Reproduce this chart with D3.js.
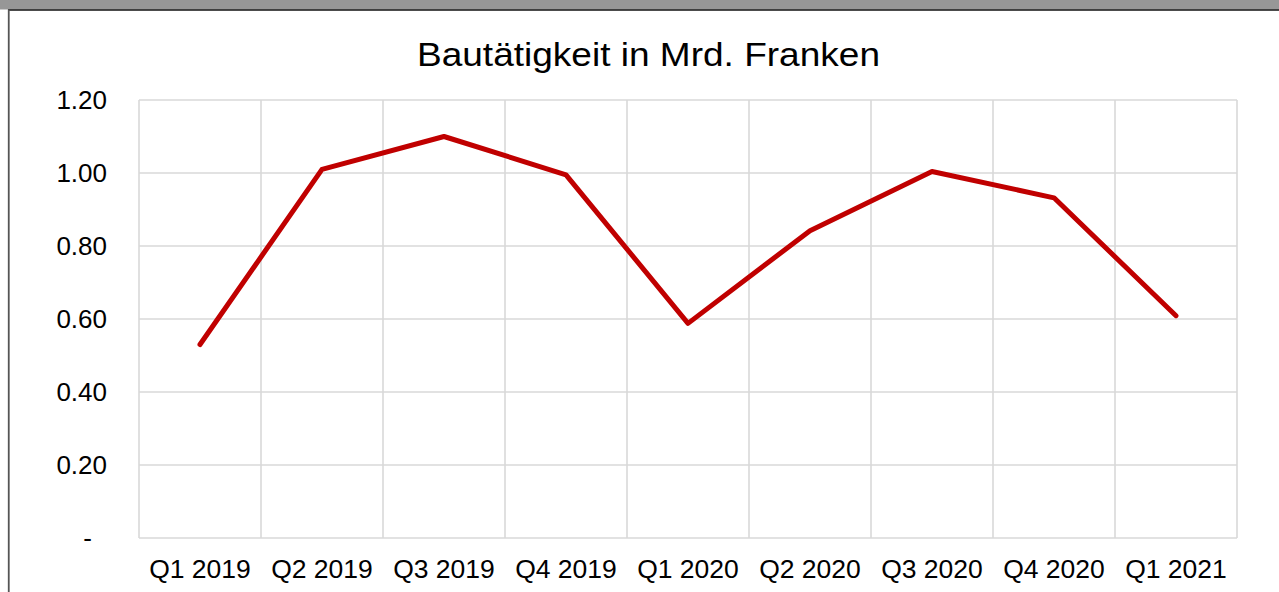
<!DOCTYPE html>
<html>
<head>
<meta charset="utf-8">
<script src="https://cdn.jsdelivr.net/npm/d3@7"></script>
<style>
  html, body { margin: 0; padding: 0; background: #fff; }
  svg { display: block; font-family: "Liberation Sans", Arial, sans-serif; }
</style>
</head>
<body>
<svg id="chart" width="1279" height="592"></svg>
<script>
const categories = ["Q1 2019","Q2 2019","Q3 2019","Q4 2019","Q1 2020","Q2 2020","Q3 2020","Q4 2020","Q1 2021"];
const values = [0.53, 1.01, 1.10, 0.995, 0.588, 0.842, 1.004, 0.932, 0.609];
const yTicks = [0, 0.2, 0.4, 0.6, 0.8, 1.0, 1.2];
const yTickLabels = ["-", "0.20", "0.40", "0.60", "0.80", "1.00", "1.20"];
const title = "Bautätigkeit in Mrd. Franken";

const svg = d3.select("#chart");
const W = 1279, H = 592;
const plot = { left: 139, right: 1237, top: 100, bottom: 538 };

// frame
svg.append("rect").attr("x", 0).attr("y", 0).attr("width", W).attr("height", 9.5).attr("fill", "#979797");
svg.append("line").attr("x1", 8).attr("x2", W).attr("y1", 10).attr("y2", 10).attr("stroke", "#111").attr("stroke-width", 1.5);
svg.append("line").attr("x1", 8.75).attr("x2", 8.75).attr("y1", 9.5).attr("y2", H).attr("stroke", "#555").attr("stroke-width", 1.8);

const x = d3.scaleBand().domain(categories).range([plot.left, plot.right]).padding(0);
const y = d3.scaleLinear().domain([0, 1.2]).range([plot.bottom, plot.top]);

// horizontal gridlines
svg.append("g").selectAll("line").data(yTicks).join("line")
  .attr("x1", plot.left).attr("x2", plot.right)
  .attr("y1", d => y(d)).attr("y2", d => y(d))
  .attr("stroke", "#d9d9d9").attr("stroke-width", 1.6);

// vertical gridlines at category boundaries
const bounds = categories.map(c => x(c)).concat([x(categories[categories.length - 1]) + x.bandwidth()]);
svg.append("g").selectAll("line").data(bounds).join("line")
  .attr("x1", d => d).attr("x2", d => d)
  .attr("y1", plot.top).attr("y2", plot.bottom)
  .attr("stroke", "#d9d9d9").attr("stroke-width", 1.6);

// y axis labels
svg.append("g").selectAll("text").data(yTicks).join("text")
  .attr("x", (d, i) => i === 0 ? 92 : 107)
  .attr("y", d => y(d))
  .attr("dy", "0.35em")
  .attr("text-anchor", "end")
  .attr("font-size", 26)
  .attr("fill", "#000")
  .text((d, i) => yTickLabels[i]);

// x axis labels
svg.append("g").selectAll("text").data(categories).join("text")
  .attr("x", d => x(d) + x.bandwidth() / 2)
  .attr("y", 577.5)
  .attr("text-anchor", "middle")
  .attr("font-size", 26.5)
  .attr("fill", "#000")
  .text(d => d);

// line
const line = d3.line()
  .x((d, i) => x(categories[i]) + x.bandwidth() / 2)
  .y(d => y(d));
svg.append("path").datum(values)
  .attr("d", line)
  .attr("fill", "none")
  .attr("stroke", "#c00000")
  .attr("stroke-width", 5)
  .attr("stroke-linejoin", "round")
  .attr("stroke-linecap", "round");

// title
svg.append("text")
  .attr("x", 648.5).attr("y", 66)
  .attr("text-anchor", "middle")
  .attr("font-size", 34)
  .attr("textLength", 463)
  .attr("lengthAdjust", "spacingAndGlyphs")
  .attr("fill", "#000")
  .text(title);
</script>
</body>
</html>
